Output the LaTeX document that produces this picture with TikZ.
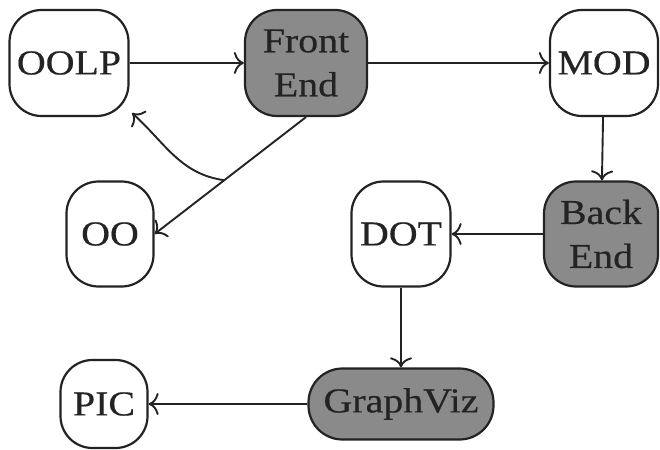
\documentclass[tikz,border=0pt]{standalone}
\usepackage{fontspec}
\setmainfont[FakeStretch=1.14,FakeBold=0.4]{Liberation Serif}
\usetikzlibrary{arrows.meta}
\definecolor{boxgray}{RGB}{138,138,138}
\definecolor{ink}{RGB}{35,35,35}
\tikzset{
  blk/.style={draw=ink, line width=2.2pt, rounded corners=32pt, inner sep=0pt,
    align=center, font=\fontsize{35}{44}\selectfont, text=ink, minimum height=106pt},
  plainbox/.style={blk, fill=white},
  darkbox/.style={blk, fill=boxgray},
  flow/.style={draw=ink, line width=1.9pt, -{To[length=10pt,width=22pt,line width=1.9pt]}}
}
\begin{document}
\begin{tikzpicture}[x=1pt,y=-1pt]
  \useasboundingbox (0,0) rectangle (660,449);
  % top row
  \node[plainbox, minimum width=119pt] (oolp) at (69,63) {OOLP};
  \node[darkbox, minimum width=122pt] (fe) at (306,63) {Front\\End};
  \node[plainbox, minimum width=108pt] (mod) at (604,63) {MOD};
  % middle row
  \node[plainbox, minimum width=87pt, minimum height=105pt] (oo) at (110,234) {OO};
  \node[plainbox, minimum width=99pt, minimum height=105pt] (dot) at (401,234) {DOT};
  \node[darkbox, minimum width=114pt, minimum height=105pt] (be) at (601,234) {Back\\End};
  % bottom row
  \node[darkbox, minimum width=185pt, minimum height=71pt, rounded corners=34pt] (gv) at (401,404) {GraphViz};
  \node[plainbox, minimum width=87pt, minimum height=88pt] (pic) at (104,404) {PIC};
  % connectors
  \draw[flow] (oolp) -- (fe);
  \draw[flow] (fe) -- (mod);
  \draw[flow] (mod) -- (be);
  \draw[flow] (fe.south) -- coordinate[pos=0.54] (split) (oo.east);
  \coordinate (back) at (132,113);
  \draw[flow] (split) to[out=172,in=-42] (back);
  \draw[flow] (be) -- (dot);
  \draw[flow] (dot) -- (gv);
  \draw[flow] (gv) -- (pic);
\end{tikzpicture}
\end{document}
